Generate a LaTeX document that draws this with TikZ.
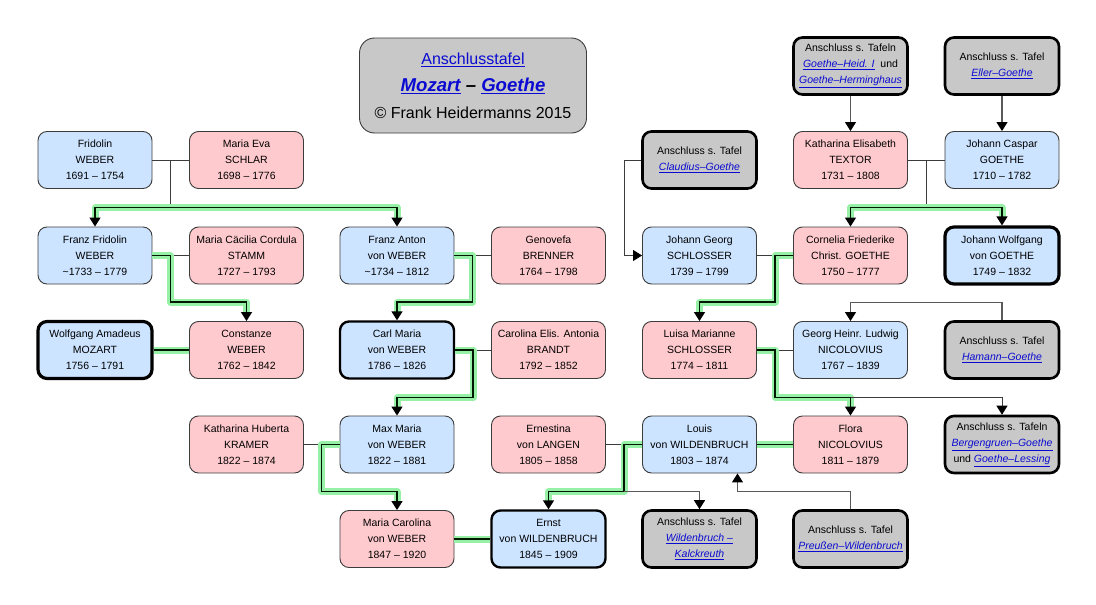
\documentclass[tikz,border=0pt]{standalone}
\usepackage{fontspec}
\setmainfont{Liberation Sans}
\usetikzlibrary{positioning,calc,arrows.meta}
\definecolor{mannblau}{RGB}{204,228,255}
\definecolor{fraurosa}{RGB}{255,202,206}
\definecolor{tafelgrau}{RGB}{200,200,200}
\definecolor{linkblau}{RGB}{10,10,210}
\definecolor{glow}{RGB}{150,240,166}
\definecolor{rand}{RGB}{60,60,60}
\newcommand{\lnk}[1]{\textcolor{linkblau}{\underline{\textit{#1}}}}

\begin{document}
\begin{tikzpicture}[x=1pt,y=-1pt,
  person/.style={rectangle,rounded corners=9pt,draw=rand,line width=0.9pt,
    minimum width=114pt,minimum height=57pt,inner sep=1pt,align=center,
    font=\fontsize{10.5}{16}\selectfont},
  mann/.style={person,fill=mannblau},
  frau/.style={person,fill=fraurosa},
  tafel/.style={person,fill=tafelgrau,draw=black,line width=2.6pt},
  stark/.style={draw=black,line width=2.4pt},
  ego/.style={draw=black,line width=3.2pt},
  ehe/.style={draw=rand,line width=0.9pt},
  linie/.style={draw=black!65,line width=1.2pt},
  pfeil/.style={-{Triangle[width=11pt,length=9pt,color=black]}},
  hl/.style={draw=black!90!green,line width=1.4pt,
    preaction={draw=glow,line width=7pt,line join=round,arrows=-,shorten >=#1}},
  hl/.default=0pt]
\useasboundingbox (0,0) rectangle (1096,605);

% title
\node[rectangle,rounded corners=15pt,draw=rand,line width=0.9pt,fill=tafelgrau,
  minimum width=227pt,minimum height=95pt,align=center,
  font=\fontsize{16}{27}\selectfont] (titel) at (473,85.5)
  {\textcolor{linkblau}{\underline{Anschlusstafel}}\\
   {\fontsize{18.6}{27}\selectfont\bfseries\itshape\textcolor{linkblau}{\underline{Mozart}} – \textcolor{linkblau}{\underline{Goethe}}}\\
   © Frank Heidermanns 2015};

% row 0
\node[tafel] (heid) at (850.5,66) {Anschluss s. Tafeln\\\lnk{Goethe–Heid. I}\ \ und\\\lnk{Goethe–Herminghaus}};
\node[tafel] (eller) at (1002,66) {Anschluss s. Tafel\\\lnk{Eller–Goethe}};

% row 1
\node[mann] (fridolin) at (95,160) {Fridolin\\WEBER\\1691 – 1754};
\node[frau] (mariaeva) at (246.5,160) {Maria Eva\\SCHLAR\\1698 – 1776};
\node[tafel] (claudius) at (699.5,160) {Anschluss s. Tafel\\\lnk{Claudius–Goethe}};
\node[frau] (textor) at (850.5,160) {Katharina Elisabeth\\TEXTOR\\1731 – 1808};
\node[mann] (caspar) at (1002,160) {Johann Caspar\\GOETHE\\1710 – 1782};

% row 2
\node[mann] (franzfridolin) at (95,255.5) {Franz Fridolin\\WEBER\\\textasciitilde1733 – 1779};
\node[frau] (caecilia) at (246.5,255.5) {Maria Cäcilia Cordula\\STAMM\\1727 – 1793};
\node[mann] (franzanton) at (397,255.5) {Franz Anton\\von WEBER\\\textasciitilde1734 – 1812};
\node[frau] (genovefa) at (548.5,255.5) {Genovefa\\BRENNER\\1764 – 1798};
\node[mann] (schlosser) at (699.5,255.5) {Johann Georg\\SCHLOSSER\\1739 – 1799};
\node[frau] (cornelia) at (850.5,255.5) {Cornelia Friederike\\Christ. GOETHE\\1750 – 1777};
\node[mann,ego] (wolfgang) at (1002,255.5) {Johann Wolfgang\\von GOETHE\\1749 – 1832};

% row 3
\node[mann,ego] (mozart) at (95,350) {Wolfgang Amadeus\\MOZART\\1756 – 1791};
\node[frau] (constanze) at (246.5,350) {Constanze\\WEBER\\1762 – 1842};
\node[mann,stark] (carlmaria) at (397,350) {Carl Maria\\von WEBER\\1786 – 1826};
\node[frau] (brandt) at (548.5,350) {Carolina Elis. Antonia\\BRANDT\\1792 – 1852};
\node[frau] (luisa) at (699.5,350) {Luisa Marianne\\SCHLOSSER\\1774 – 1811};
\node[mann] (nicolovius) at (850.5,350) {Georg Heinr. Ludwig\\NICOLOVIUS\\1767 – 1839};
\node[tafel] (hamann) at (1002,350) {Anschluss s. Tafel\\\lnk{Hamann–Goethe}};

% row 4
\node[frau] (kramer) at (246.5,444.5) {Katharina Huberta\\KRAMER\\1822 – 1874};
\node[mann] (maxmaria) at (397,444.5) {Max Maria\\von WEBER\\1822 – 1881};
\node[frau] (langen) at (548.5,444.5) {Ernestina\\von LANGEN\\1805 – 1858};
\node[mann] (louis) at (699.5,444.5) {Louis\\von WILDENBRUCH\\1803 – 1874};
\node[frau] (flora) at (850.5,444.5) {Flora\\NICOLOVIUS\\1811 – 1879};
\node[tafel] (bergengruen) at (1002,444.5) {Anschluss s. Tafeln\\\lnk{Bergengruen–Goethe}\\und \lnk{Goethe–Lessing}};

% row 5
\node[frau] (carolina) at (397,539) {Maria Carolina\\von WEBER\\1847 – 1920};
\node[mann,stark] (ernst) at (548.5,539) {Ernst\\von WILDENBRUCH\\1845 – 1909};
\node[tafel] (kalckreuth) at (699.5,539) {Anschluss s. Tafel\\\lnk{Wildenbruch –}\\\lnk{Kalckreuth}};
\node[tafel] (preussen) at (850.5,539) {Anschluss s. Tafel\\\lnk{Preußen–Wildenbruch}};

% junctions
\coordinate (j1) at ($(fridolin.east)!0.5!(mariaeva.west)$);
\coordinate (b1) at ($(fridolin.south)!0.5!(franzfridolin.north)$);
\coordinate (j2) at ($(franzfridolin.east)!0.5!(caecilia.west)$);
\coordinate (b2) at ($(franzfridolin.south)!0.5!(mozart.north)$);
\coordinate (j4) at ($(franzanton.east)!0.5!(genovefa.west)$);
\coordinate (j5) at ($(carlmaria.east)!0.5!(brandt.west)$);
\coordinate (b5) at ($(carlmaria.south)!0.5!(maxmaria.north)$);
\coordinate (j6) at ($(kramer.east)!0.5!(maxmaria.west)$);
\coordinate (b6) at ($(maxmaria.south)!0.5!(carolina.north)$);
\coordinate (j8) at ($(langen.east)!0.5!(louis.west)$);
\coordinate (j10) at ($(luisa.east)!0.5!(nicolovius.west)$);
\coordinate (c13) at ($(genovefa.east)!0.5!(schlosser.west)$);
\coordinate (j16) at ($(textor.east)!0.5!(caspar.west)$);
\coordinate (j17) at ($(schlosser.east)!0.5!(cornelia.west)$);
\coordinate (louisin) at ([xshift=38pt]louis.south);

% Weber
\draw[ehe] (fridolin) -- (mariaeva);
\draw[ehe] (j1) -- (j1 |- b1);
\draw[hl=8pt,pfeil] (j1 |- b1) -| (franzfridolin.north);
\draw[hl=8pt,pfeil] (j1 |- b1) -| (franzanton.north);
\draw[ehe] (j2) -- (caecilia);
\draw[hl=8pt,pfeil] (franzfridolin.east) -- (j2) -- (j2 |- b2) -| (constanze.north);
\draw[hl] (mozart) -- (constanze);
\draw[ehe] (j4) -- (genovefa);
\draw[hl=8pt,pfeil] (franzanton.east) -- (j4) -- (j4 |- b2) -| (carlmaria.north);
\draw[ehe] (j5) -- (brandt);
\draw[hl=8pt,pfeil] (carlmaria.east) -- (j5) -- (j5 |- b5) -| (maxmaria.north);
\draw[ehe] (kramer) -- (j6);
\draw[hl=8pt,pfeil] (maxmaria.west) -- (j6) -- (j6 |- b6) -| (carolina.north);
\draw[hl] (carolina) -- (ernst);

% Wildenbruch
\draw[ehe] (langen) -- (j8);
\draw[hl=8pt,pfeil] (louis.west) -- (j8) -- (j8 |- b6) -| (ernst.north);
\draw[linie,pfeil] (j8 |- b6) -| (kalckreuth.north);
\draw[hl] (louis) -- (flora);
\draw[linie,pfeil] (preussen.north) -- (preussen.north |- b6) -| (louisin);

% Goethe
\draw[linie,pfeil] (heid) -- (textor);
\draw[linie,pfeil] (eller) -- (caspar);
\draw[ehe] (textor) -- (caspar);
\draw[ehe] (j16) -- (j16 |- b1);
\draw[hl=8pt,pfeil] (j16 |- b1) -| (cornelia.north);
\draw[hl=8pt,pfeil] (j16 |- b1) -| (wolfgang.north);
\draw[ehe,pfeil] (claudius.west) -| (c13) -- (schlosser.west);
\draw[ehe] (schlosser) -- (j17);
\draw[hl=8pt,pfeil] (cornelia.west) -- (j17) -- (j17 |- b2) -| (luisa.north);
\draw[linie,pfeil] (hamann.north) -- (hamann.north |- b2) -| (nicolovius.north);
\draw[ehe] (j10) -- (nicolovius);
\draw[hl=8pt,pfeil] (luisa.east) -- (j10) -- (j10 |- b5) -| (flora.north);
\draw[ehe,pfeil] (flora.north |- b5) -| (bergengruen.north);
\end{tikzpicture}
\end{document}
